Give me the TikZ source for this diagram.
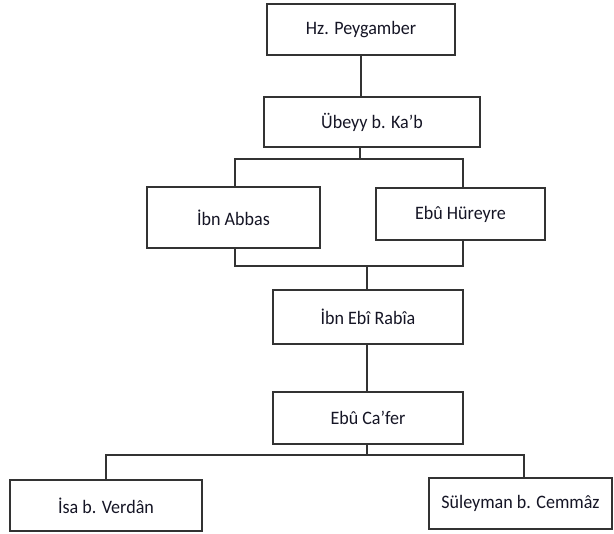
\documentclass[tikz,border=0pt]{standalone}
\usepackage{fontspec}
\setmainfont{Carlito}[FakeStretch=0.95]
\usetikzlibrary{calc}
\definecolor{linecol}{HTML}{333333}
\definecolor{txtcol}{HTML}{151525}
\tikzset{
  person/.style={draw=linecol, line width=1.3pt, rectangle, fill=white,
    text=txtcol, font=\fontsize{19}{22}\selectfont, inner sep=0pt,
    minimum width=#1},
  conn/.style={draw=linecol, line width=1.2pt}
}
\begin{document}
\begin{tikzpicture}[x=1pt,y=-1pt]
\useasboundingbox (0,0) rectangle (614,534);
% nodes
\node[person=188pt, minimum height=51pt] (peyg) at (361,29.5) {Hz. Peygamber};
\node[person=216pt, minimum height=50pt] (ubeyy) at (372,122) {Übeyy b. Ka’b};
\node[person=173pt, minimum height=61pt] (abbas) at (233.5,217.5) {İbn Abbas};
\node[person=169pt, minimum height=52pt] (hureyre) at (460.5,214) {Ebû Hüreyre};
\node[person=190pt, minimum height=54pt] (rabia) at (368,317) {İbn Ebî Rabîa};
\node[person=190pt, minimum height=52pt] (cafer) at (368,418) {Ebû Ca’fer};
\node[person=192pt, minimum height=51pt] (isa) at (106,505.5) {İsa b. Verdân};
\node[person=183pt, minimum height=51pt] (suleyman) at (520.5,503.5) {Süleyman b. Cemmâz};
% junction coordinates
\coordinate (j1) at (360,159);
\coordinate (j1L) at (235,159);
\coordinate (j1R) at (463,159);
\coordinate (j2) at (367,266);
\coordinate (j2L) at (235,266);
\coordinate (j2R) at (463,266);
\coordinate (j3) at (367,455);
\coordinate (j3L) at (106,455);
\coordinate (j3R) at (524,455);
% connectors
\draw[conn] (peyg.south) -- (peyg.south |- ubeyy.north);
\draw[conn] (j1 |- ubeyy.south) -- (j1);
\draw[conn] (j1L |- abbas.north) -- (j1L) -- (j1R) -- (j1R |- hureyre.north);
\draw[conn] (j2L |- abbas.south) -- (j2L) -- (j2R) -- (j2R |- hureyre.south);
\draw[conn] (j2) -- (j2 |- rabia.north);
\draw[conn] (j2 |- rabia.south) -- (j2 |- cafer.north);
\draw[conn] (j3 |- cafer.south) -- (j3);
\draw[conn] (j3L |- isa.north) -- (j3L) -- (j3R) -- (j3R |- suleyman.north);
\end{tikzpicture}
\end{document}
